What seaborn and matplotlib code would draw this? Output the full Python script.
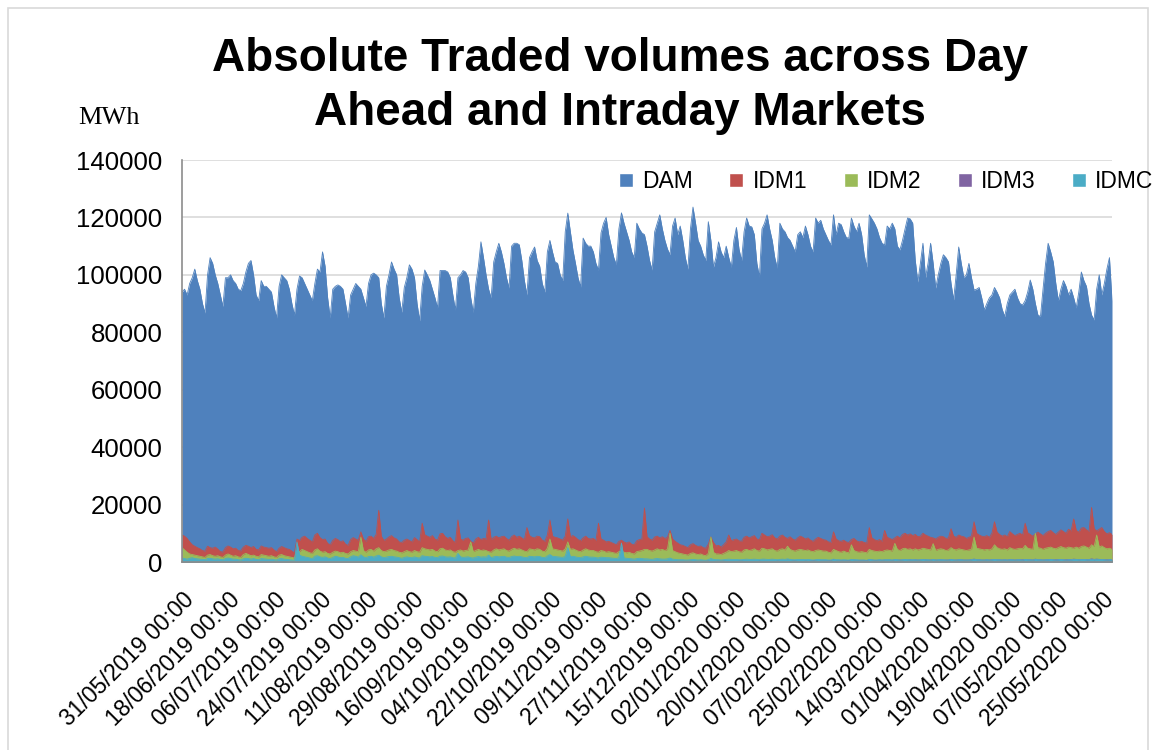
import numpy as np
import pandas as pd
import seaborn as sns
import matplotlib.pyplot as plt
from matplotlib.lines import Line2D
from matplotlib.patches import Rectangle

# daily values, thousand MWh, one row per week (Fri..Thu), starting 31/05/2019
dam_k = [
    94, 95, 93, 97, 99, 102, 98,
    95, 90, 86.7, 100, 106, 104, 100,
    97, 93, 89, 99, 99, 100, 98,
    97, 95, 94.5, 97, 101, 104, 105,
    100, 93, 91, 98, 96, 96, 95,
    94, 89, 85, 96, 100, 99, 98,
    95, 90, 86, 95, 99.6, 99, 97,
    95, 93, 91, 97, 102, 101, 108,
    103, 92, 85, 95, 96, 96.5, 96,
    95, 90, 85, 93, 95, 97, 96,
    95, 92, 89, 97, 100, 100.6, 100,
    99, 90, 85, 96, 100, 104.5, 102,
    100, 92, 87, 95.6, 99, 103.5, 102,
    99, 90, 84, 96, 101.7, 100, 98,
    95, 92, 88.5, 101.5, 101.5, 101.5, 101,
    99, 93, 87.8, 99, 100, 101.5, 101,
    99, 92, 87, 97, 103, 111.5, 106,
    100, 95, 92, 104.5, 108, 111, 108,
    104, 99, 95.4, 110, 111, 111, 110.5,
    105, 98, 93, 106, 108, 109.7, 105,
    103, 97, 94, 108, 112, 108, 104.5,
    104, 100, 98, 115, 121.5, 115, 108.7,
    104, 99, 95.8, 112.8, 111, 110, 110,
    108, 104, 101.7, 114.6, 118, 120, 114,
    110, 106, 103.5, 116, 121.6, 118, 115,
    112, 108, 106, 118, 116, 114.6, 114,
    110, 105, 101.7, 115, 118, 120.9, 116,
    112, 109, 107, 117, 119.8, 114, 117,
    112, 106, 102, 116, 123.6, 118, 112,
    110, 107, 105, 118.5, 112, 102.7, 106,
    111.5, 108, 106, 110, 106, 102.7, 112,
    116.5, 109, 105, 115, 119.8, 117, 116.7,
    114, 104, 99.3, 116, 118, 120.9, 116,
    112, 106, 102.4, 118, 116, 115, 113,
    112, 110, 108, 114, 115, 113, 117,
    114, 110, 108, 119.8, 118, 119, 116,
    114, 112, 110.4, 120.9, 114, 118, 117.5,
    115, 113, 112.8, 119.8, 117, 115, 118,
    114, 107, 102.7, 120.9, 119.5, 118, 116,
    113, 111, 110.4, 117, 116, 118, 116,
    110, 108.7, 112, 116, 119.8, 119.5, 118,
    105, 97.5, 104, 111, 99, 104, 111,
    104, 95.4, 100, 104, 107, 106, 104.5,
    97, 91.3, 100, 109.7, 104, 99, 100,
    104, 99, 94.7, 95, 95.6, 92, 87.8,
    90, 92, 93, 95.6, 94, 92, 88,
    85.5, 90, 93, 94, 95, 92, 90,
    89.5, 91, 94, 98.2, 95, 90, 86,
    85.5, 95, 104, 111, 108, 104.5, 97,
    91, 95, 98, 96, 93, 95, 92,
    88.5, 94, 101, 98, 96, 90, 86,
    84.3, 95, 100, 93, 97, 102, 106,
    91,
]

idm1_k = [
    9.4, 9.0, 8.2, 7.0, 6.0, 5.5, 5.0,
    4.6, 4.0, 3.8, 5.5, 5.0, 4.8, 5.2,
    4.5, 3.6, 3.5, 5.0, 5.6, 5.2, 4.6,
    4.8, 4.0, 3.9, 5.2, 5.8, 5.5, 5.0,
    5.4, 4.4, 4.2, 5.6, 5.2, 5.0, 4.8,
    5.0, 4.2, 3.6, 4.8, 5.4, 5.0, 4.6,
    4.4, 3.8, 3.2, 8.0, 7.5, 8.6, 9.0,
    8.2, 7.6, 7.0, 9.4, 10.0, 8.5, 7.8,
    8.0, 6.5, 6.0, 7.5, 8.2, 7.8, 7.0,
    7.4, 6.2, 5.8, 7.8, 8.5, 8.0, 7.6,
    10.5, 8.0, 7.2, 8.8, 9.0, 8.2, 9.6,
    18.0, 9.0, 7.5, 8.0, 8.7, 9.2, 8.4,
    8.0, 7.0, 6.8, 7.6, 8.0, 7.5, 7.0,
    8.5, 7.8, 7.0, 13.5, 9.5, 9.0, 8.6,
    9.2, 8.0, 7.6, 9.8, 10.0, 8.8, 8.2,
    8.6, 7.4, 6.8, 14.6, 8.0, 7.6, 8.2,
    8.4, 7.2, 6.6, 8.0, 8.6, 7.8, 8.2,
    8.0, 14.6, 7.8, 8.6, 9.0, 8.4, 8.8,
    9.0, 8.2, 7.6, 8.8, 9.4, 8.6, 9.0,
    8.4, 7.8, 12.0, 9.2, 8.6, 8.4, 9.0,
    8.8, 7.6, 7.2, 9.4, 14.6, 9.0, 8.6,
    8.4, 8.0, 7.6, 9.0, 15.0, 8.8, 9.2,
    8.6, 7.8, 7.4, 8.4, 9.0, 8.2, 8.0,
    8.2, 7.4, 13.5, 8.0, 7.6, 7.0, 7.2,
    6.8, 6.4, 6.0, 7.2, 7.6, 7.0, 6.6,
    7.0, 6.2, 6.0, 7.4, 7.8, 8.0, 18.8,
    8.8, 8.0, 7.6, 8.7, 9.0, 8.4, 8.8,
    8.2, 8.6, 11.0, 8.0, 7.2, 6.6, 6.0,
    5.8, 5.4, 5.0, 6.0, 6.4, 5.8, 5.4,
    5.6, 5.0, 4.8, 6.2, 8.7, 6.8, 5.6,
    5.8, 5.2, 6.0, 7.0, 9.4, 7.4, 7.8,
    8.0, 7.4, 7.2, 8.6, 9.0, 8.4, 8.8,
    9.2, 8.0, 7.8, 10.0, 9.4, 8.8, 9.0,
    9.5, 8.4, 8.0, 9.0, 9.4, 8.6, 8.2,
    8.8, 8.0, 7.6, 8.4, 9.0, 8.6, 8.0,
    8.4, 7.6, 7.2, 8.0, 8.6, 8.2, 7.8,
    7.6, 7.0, 6.8, 10.5, 8.0, 7.4, 7.2,
    7.6, 7.0, 6.8, 7.8, 8.2, 7.4, 7.0,
    7.2, 6.8, 6.6, 12.0, 8.4, 7.8, 7.4,
    7.8, 7.2, 11.0, 8.6, 8.2, 7.8, 8.4,
    9.0, 8.4, 9.6, 10.0, 9.4, 9.8, 9.2,
    9.6, 8.8, 9.0, 10.0, 9.4, 9.0, 8.6,
    8.4, 8.0, 8.6, 9.0, 8.8, 8.2, 8.4,
    11.6, 9.0, 8.6, 9.4, 9.0, 8.8, 8.2,
    8.6, 9.0, 14.0, 10.0, 9.4, 9.0, 8.8,
    9.2, 8.6, 10.0, 14.0, 10.4, 9.6, 9.0,
    9.4, 8.8, 10.6, 9.8, 9.2, 9.6, 10.0,
    9.4, 13.5, 10.2, 9.6, 9.0, 9.8, 10.4,
    9.8, 9.2, 10.0, 10.6, 11.0, 10.2, 9.6,
    10.4, 11.2, 10.6, 10.0, 11.4, 10.8, 15.0,
    11.0, 10.4, 11.8, 12.0, 11.2, 10.6, 19.0,
    11.6, 10.8, 11.4, 12.0, 10.6, 9.8, 10.2,
    9.6,
]

idm2_k = [
    5.0, 4.2, 3.4, 2.8, 2.6, 2.4, 2.2,
    2.0, 1.8, 1.6, 2.4, 2.6, 2.2, 2.0,
    2.2, 1.8, 1.6, 2.4, 2.8, 2.4, 2.0,
    2.2, 1.8, 1.6, 2.6, 3.0, 2.6, 2.2,
    2.4, 2.0, 1.8, 2.6, 2.4, 2.2, 2.0,
    2.2, 1.8, 1.6, 2.4, 2.6, 2.2, 2.0,
    1.8, 1.6, 1.4, 4.0, 3.6, 4.4, 4.0,
    3.6, 3.2, 3.0, 4.2, 4.6, 3.8, 3.4,
    3.6, 3.0, 2.8, 3.4, 3.8, 3.6, 3.2,
    3.4, 3.0, 2.8, 3.6, 4.0, 3.8, 3.6,
    8.7, 4.0, 3.4, 4.2, 4.4, 3.8, 4.6,
    5.0, 4.0, 3.6, 3.8, 4.2, 4.4, 4.0,
    3.8, 3.4, 3.2, 3.6, 4.0, 3.6, 3.4,
    4.0, 3.6, 3.4, 5.0, 4.6, 4.4, 4.2,
    4.4, 3.8, 3.6, 4.6, 4.8, 4.2, 4.0,
    4.2, 3.6, 3.4, 4.0, 4.2, 3.8, 4.0,
    4.2, 7.0, 3.6, 4.0, 4.4, 4.0, 4.2,
    4.0, 3.6, 3.4, 4.2, 4.6, 4.2, 4.4,
    4.6, 4.0, 3.8, 4.4, 4.8, 4.4, 4.6,
    4.2, 3.8, 3.6, 4.6, 4.4, 4.2, 4.6,
    4.4, 3.8, 3.6, 4.8, 8.0, 4.6, 4.4,
    4.2, 4.0, 3.8, 4.6, 7.0, 4.4, 4.6,
    4.2, 3.8, 3.6, 4.2, 4.6, 4.2, 4.0,
    4.0, 3.6, 3.4, 4.0, 3.8, 3.4, 3.6,
    3.4, 3.2, 3.0, 3.6, 3.8, 3.4, 3.2,
    3.4, 3.0, 2.8, 3.6, 3.8, 4.0, 4.4,
    4.4, 4.0, 3.8, 4.2, 4.6, 4.2, 4.4,
    4.0, 4.4, 10.0, 4.0, 3.6, 3.2, 3.0,
    2.8, 2.6, 2.4, 3.0, 3.2, 2.8, 2.6,
    2.8, 2.4, 2.2, 3.0, 8.7, 3.4, 2.8,
    2.8, 2.6, 3.0, 3.4, 4.0, 3.6, 3.8,
    4.0, 3.6, 3.4, 4.2, 4.4, 4.0, 4.2,
    4.6, 4.0, 3.8, 4.8, 4.6, 4.2, 4.4,
    4.6, 4.0, 3.8, 4.4, 4.6, 4.2, 5.5,
    4.4, 4.0, 3.8, 4.2, 4.4, 4.2, 4.0,
    4.2, 3.8, 3.6, 4.0, 4.2, 4.0, 3.8,
    3.8, 3.4, 3.2, 4.4, 4.0, 3.6, 3.4,
    3.8, 3.4, 3.2, 6.0, 4.0, 3.6, 3.4,
    3.6, 3.4, 3.2, 4.4, 4.0, 3.8, 3.6,
    3.8, 3.6, 4.0, 4.2, 4.0, 3.8, 6.5,
    4.4, 4.0, 4.6, 4.8, 4.4, 4.6, 4.2,
    4.6, 4.2, 4.4, 4.8, 4.6, 4.4, 4.2,
    6.4, 4.0, 4.4, 4.6, 4.4, 4.0, 4.2,
    5.0, 4.4, 4.2, 4.6, 4.4, 4.2, 4.0,
    4.2, 4.4, 8.7, 4.8, 4.6, 4.4, 4.2,
    4.4, 4.2, 4.6, 6.0, 5.0, 4.6, 4.4,
    4.6, 4.2, 5.0, 4.6, 4.4, 4.6, 4.8,
    4.6, 5.8, 4.8, 4.6, 4.4, 10.0, 5.0,
    4.8, 4.4, 4.8, 5.0, 5.2, 4.8, 4.6,
    5.0, 5.4, 5.0, 4.8, 5.2, 5.0, 4.8,
    5.2, 4.8, 5.4, 5.6, 5.2, 4.8, 6.0,
    5.4, 9.4, 5.2, 5.6, 5.0, 4.6, 4.8,
    4.4,
]

idm3_k = [
    0.3, 0.3, 0.2, 0.3, 0.4, 0.3, 0.3,
    0.3, 0.2, 0.2, 0.3, 0.3, 0.3, 0.2,
    0.3, 0.2, 0.2, 0.3, 0.4, 0.3, 0.3,
    0.3, 0.2, 0.2, 0.3, 0.3, 0.3, 0.3,
    0.3, 0.2, 0.2, 0.3, 0.3, 0.3, 0.2,
    0.3, 0.2, 0.2, 0.3, 0.3, 0.3, 0.3,
    0.2, 0.2, 0.2, 0.4, 0.4, 0.4, 0.3,
    0.3, 0.3, 0.3, 0.4, 0.4, 0.3, 0.3,
    0.3, 0.3, 0.2, 0.3, 0.4, 0.3, 0.3,
    0.3, 0.3, 0.2, 0.3, 0.4, 0.4, 0.3,
    0.5, 0.4, 0.3, 0.4, 0.4, 0.3, 0.4,
    0.5, 0.4, 0.3, 0.4, 0.4, 0.4, 0.4,
    0.4, 0.3, 0.3, 0.4, 0.4, 0.3, 0.3,
    0.4, 0.3, 0.3, 0.5, 0.4, 0.4, 0.4,
    0.4, 0.3, 0.3, 0.4, 0.5, 0.4, 0.4,
    0.4, 0.3, 0.3, 0.5, 0.4, 0.4, 0.4,
    0.4, 0.5, 0.3, 0.4, 0.4, 0.4, 0.4,
    0.4, 0.3, 0.3, 0.4, 0.5, 0.4, 0.4,
    0.5, 0.4, 0.4, 0.4, 0.5, 0.4, 0.5,
    0.4, 0.4, 0.5, 0.5, 0.4, 0.4, 0.5,
    0.4, 0.4, 0.4, 0.5, 0.6, 0.5, 0.4,
    0.4, 0.4, 0.4, 0.5, 0.6, 0.4, 0.5,
    0.4, 0.4, 0.4, 0.4, 0.5, 0.4, 0.4,
    0.4, 0.4, 0.5, 0.4, 0.4, 0.4, 0.4,
    0.4, 0.3, 0.3, 0.4, 0.4, 0.4, 0.4,
    0.4, 0.3, 0.3, 0.4, 0.4, 0.4, 0.6,
    0.5, 0.4, 0.4, 0.5, 0.5, 0.4, 0.5,
    0.4, 0.5, 0.6, 0.4, 0.4, 0.3, 0.3,
    0.3, 0.3, 0.3, 0.3, 0.4, 0.3, 0.3,
    0.3, 0.3, 0.3, 0.4, 0.6, 0.4, 0.3,
    0.4, 0.3, 0.4, 0.4, 0.5, 0.4, 0.5,
    0.5, 0.5, 0.4, 0.6, 0.6, 0.5, 0.6,
    0.6, 0.5, 0.5, 0.6, 0.6, 0.5, 0.6,
    0.6, 0.5, 0.5, 0.6, 0.6, 0.5, 0.7,
    0.6, 0.6, 0.5, 0.6, 0.6, 0.6, 0.6,
    0.6, 0.5, 0.5, 0.6, 0.7, 0.6, 0.6,
    0.6, 0.5, 0.5, 0.8, 0.6, 0.6, 0.6,
    0.6, 0.6, 0.5, 0.7, 0.7, 0.6, 0.6,
    0.6, 0.6, 0.5, 0.8, 0.7, 0.6, 0.6,
    0.7, 0.6, 0.7, 0.7, 0.7, 0.6, 0.8,
    0.7, 0.7, 0.7, 0.8, 0.7, 0.8, 0.7,
    0.8, 0.7, 0.7, 0.8, 0.8, 0.7, 0.7,
    0.8, 0.7, 0.7, 0.8, 0.7, 0.7, 0.7,
    0.9, 0.7, 0.7, 0.8, 0.8, 0.7, 0.7,
    0.7, 0.8, 1.0, 0.8, 0.8, 0.7, 0.7,
    0.8, 0.7, 0.8, 0.9, 0.8, 0.8, 0.7,
    0.8, 0.7, 0.8, 0.8, 0.7, 0.8, 0.8,
    0.8, 0.9, 0.8, 0.8, 0.7, 1.0, 0.8,
    0.8, 0.7, 0.8, 0.9, 0.9, 0.8, 0.8,
    0.9, 0.9, 0.8, 0.8, 0.9, 0.8, 1.0,
    0.9, 0.8, 0.9, 0.9, 0.9, 0.8, 1.1,
    0.9, 1.0, 0.9, 0.9, 0.8, 0.8, 0.8,
    0.8,
]

idmc_k = [
    1.4, 1.2, 1.0, 1.3, 1.5, 1.2, 1.1,
    1.0, 0.9, 0.8, 1.2, 1.3, 1.1, 1.0,
    1.1, 0.9, 0.8, 1.2, 1.4, 1.2, 1.0,
    1.0, 0.8, 0.7, 1.1, 1.3, 1.2, 1.0,
    1.2, 0.9, 0.8, 1.2, 1.1, 1.0, 0.9,
    1.0, 0.8, 0.7, 1.1, 1.2, 1.0, 0.9,
    0.8, 0.7, 0.6, 7.0, 2.4, 2.0, 1.8,
    1.6, 1.4, 1.2, 2.0, 2.2, 1.8, 1.6,
    1.8, 1.4, 1.2, 1.6, 2.0, 1.8, 1.5,
    1.6, 1.3, 1.2, 1.8, 2.2, 2.0, 1.7,
    2.5, 1.8, 1.5, 1.9, 2.0, 1.7, 2.1,
    2.4, 1.8, 1.5, 1.7, 1.9, 2.0, 1.8,
    1.7, 1.5, 1.3, 1.6, 1.8, 1.6, 1.5,
    1.8, 1.5, 1.4, 2.2, 2.0, 1.9, 1.8,
    1.9, 1.6, 1.5, 2.0, 2.1, 1.8, 1.7,
    1.8, 1.5, 1.4, 3.0, 1.8, 1.6, 1.7,
    1.8, 1.5, 1.4, 1.7, 1.9, 1.7, 1.8,
    1.7, 2.4, 1.5, 1.8, 2.0, 1.8, 1.9,
    2.0, 1.7, 1.6, 1.9, 2.1, 1.9, 2.0,
    1.8, 1.6, 1.5, 2.0, 1.9, 1.8, 2.0,
    1.9, 1.6, 1.5, 2.1, 2.6, 2.0, 1.9,
    1.8, 1.7, 1.6, 2.0, 5.0, 1.9, 2.0,
    1.8, 1.6, 1.5, 1.8, 2.0, 1.8, 1.7,
    1.7, 1.5, 1.4, 1.7, 1.6, 1.5, 1.5,
    1.4, 1.3, 1.2, 1.5, 6.6, 1.4, 1.3,
    1.2, 1.1, 1.0, 1.2, 1.3, 1.2, 1.1,
    1.1, 1.0, 0.9, 1.1, 1.2, 1.1, 1.0,
    1.0, 1.1, 1.4, 1.0, 0.9, 0.8, 0.8,
    0.8, 0.7, 0.7, 0.8, 0.9, 0.8, 0.7,
    0.8, 0.7, 0.6, 0.8, 1.2, 0.9, 0.8,
    0.8, 0.7, 0.8, 0.9, 1.0, 0.9, 0.9,
    0.9, 0.8, 0.8, 0.9, 1.0, 0.9, 0.9,
    1.0, 0.9, 0.8, 1.0, 1.0, 0.9, 0.9,
    1.0, 0.9, 0.8, 0.9, 1.0, 0.9, 1.1,
    0.9, 0.8, 0.8, 0.9, 0.9, 0.9, 0.8,
    0.9, 0.8, 0.7, 0.8, 0.9, 0.8, 0.8,
    0.8, 0.7, 0.7, 1.0, 0.8, 0.8, 0.7,
    0.8, 0.7, 0.7, 0.9, 0.8, 0.8, 0.7,
    0.7, 0.7, 0.6, 0.9, 0.8, 0.7, 0.7,
    0.8, 0.7, 0.8, 0.8, 0.8, 0.7, 0.9,
    0.8, 0.7, 0.8, 0.9, 0.8, 0.8, 0.8,
    0.8, 0.7, 0.8, 0.9, 0.8, 0.8, 0.7,
    0.9, 0.7, 0.8, 0.8, 0.8, 0.7, 0.7,
    0.9, 0.8, 0.7, 0.8, 0.8, 0.7, 0.7,
    0.7, 0.8, 1.0, 0.8, 0.8, 0.7, 0.7,
    0.8, 0.7, 0.8, 0.9, 0.8, 0.8, 0.7,
    0.8, 0.7, 0.8, 0.8, 0.7, 0.8, 0.8,
    0.7, 0.9, 0.8, 0.8, 0.7, 0.9, 0.8,
    0.8, 0.7, 0.8, 0.8, 0.9, 0.8, 0.7,
    0.8, 0.9, 0.8, 0.7, 0.8, 0.8, 0.9,
    0.9, 0.8, 0.9, 0.9, 0.8, 0.8, 1.0,
    0.8, 1.0, 0.9, 0.9, 0.8, 0.7, 0.8,
    0.8,
]

dates = pd.date_range("2019-05-31", periods=len(dam_k), freq="D")
series_names = ["DAM", "IDM1", "IDM2", "IDM3", "IDMC"]
colors = {"DAM": "#4F81BD", "IDM1": "#C0504D", "IDM2": "#9BBB59",
          "IDM3": "#8064A2", "IDMC": "#4BACC6"}

df = pd.DataFrame({
    "day": np.arange(len(dam_k)),
    "DAM": np.array(dam_k) * 1000,
    "IDM1": np.array(idm1_k) * 1000,
    "IDM2": np.array(idm2_k) * 1000,
    "IDM3": np.array(idm3_k) * 1000,
    "IDMC": np.array(idmc_k) * 1000,
})

sns.set_theme(style="white")
plt.rcParams['font.family'] = ['Liberation Sans', 'DejaVu Sans']
plt.rcParams['text.color'] = 'black'

fig = plt.figure(figsize=(11.55, 7.5), dpi=100)
ax = fig.add_axes([182 / 1155, 1 - 562 / 750, 930 / 1155, 402 / 750])

# Excel style overlapping area chart: DAM at the back, IDMC in front
for z, name in enumerate(series_names):
    ax.fill_between(df["day"], 0, df[name], color=colors[name], lw=0, zorder=2 + z)
    sns.lineplot(data=df, x="day", y=name, color=colors[name], lw=0.6, ax=ax, zorder=2 + z)

ax.set_xlim(0, len(dam_k) - 1)
ax.set_ylim(0, 140000)
ax.set_yticks(range(0, 140001, 20000))
ax.set_yticklabels([str(v) for v in range(0, 140001, 20000)], fontsize=18.5, color="black")
ax.yaxis.grid(True, color="#d9d9d9", lw=1.2)
ax.set_axisbelow(True)

tick_pos = list(range(0, len(dam_k), 18))
ax.set_xticks(tick_pos)
ax.set_xticklabels([dates[i].strftime("%d/%m/%Y 00:00") for i in tick_pos],
                   rotation=45, ha="right", rotation_mode="anchor", fontsize=16.5, color="black")
ax.tick_params(axis="x", length=0, pad=19)
ax.tick_params(axis="y", length=0, pad=14)
ax.set_xlabel("")
ax.set_ylabel("")

for side in ["top", "right"]:
    ax.spines[side].set_visible(False)
for side in ["left", "bottom"]:
    ax.spines[side].set_color("#8c8c8c")
    ax.spines[side].set_linewidth(1.2)
    ax.spines[side].set_zorder(10)

handles = [Line2D([0], [0], marker="s", color="w", markerfacecolor=colors[n],
                  markersize=10, lw=0) for n in series_names]
fig.legend(handles, series_names, loc="center", bbox_to_anchor=(885 / 1155, 1 - 182 / 750),
           ncol=5, frameon=False, fontsize=16.5, handlelength=0.8, handletextpad=0.3,
           columnspacing=1.5)

fig.text(620 / 1155, 1 - 86 / 750, "Absolute Traded volumes across Day\nAhead and Intraday Markets",
         ha="center", va="center", fontsize=33, fontweight="bold", linespacing=1.3)
fig.text(109 / 1155, 1 - 118 / 750, "MWh", ha="center", va="center", fontsize=19,
         family="Liberation Serif")

# light outer chart border
fig.patches.append(Rectangle((8 / 1155, -0.01), 1140 / 1155, 1 - 8 / 750 + 0.01,
                             transform=fig.transFigure, fill=False, ec="#d9d9d9", lw=1.2))

fig.savefig("out.png", dpi=100)
